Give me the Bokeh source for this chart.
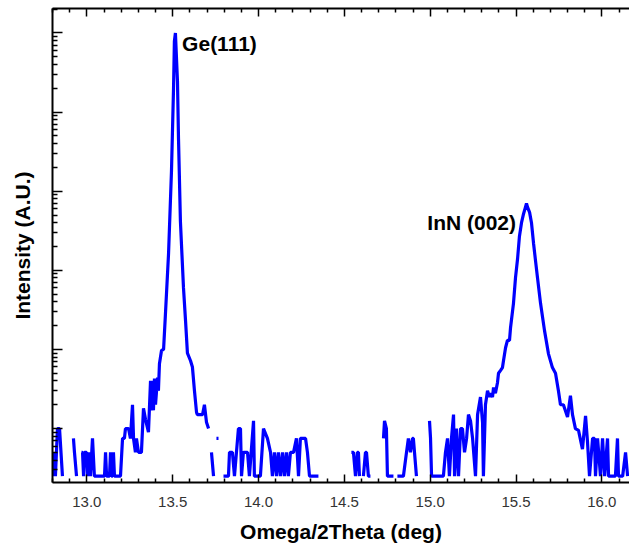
import numpy as np
from bokeh.plotting import figure
from bokeh.models import Range1d, LinearAxis, FixedTicker, PrintfTickFormatter
from bokeh.embed import file_html
from bokeh.resources import INLINE
from bokeh.core.properties import value

NAN = float("nan")

# Omega/2Theta scan (deg) and intensity (A.U.); NaN marks zero-count gaps (not drawn on log axis)
two_theta = [
    12.800, 12.806, 12.812, 12.817, 12.829, 12.841, 12.858, NAN,
    12.922, 12.928, 12.940, NAN,
    12.969, 12.975, 12.981, 12.986, 12.998, 13.004, 13.015, 13.021, 13.033, 13.044,
    13.103, 13.109, 13.115, 13.132, 13.138, 13.144, 13.150, 13.155, 13.161, 13.196,
    13.208, 13.219, 13.225, 13.243, 13.254, 13.266, 13.272, 13.283, 13.289, 13.301,
    13.318, 13.330, 13.342, 13.359, 13.371, 13.377, 13.382, 13.388, 13.394, 13.400,
    13.412, 13.417, 13.423, 13.435, 13.447, 13.458, 13.476, 13.493, 13.505, 13.510,
    13.516, 13.528, 13.534, 13.545, 13.563, 13.575, 13.586, 13.604, 13.615, 13.627,
    13.639, 13.644, 13.674, 13.685, 13.697, 13.709, NAN,
    13.726, 13.738, NAN,
    13.755, 13.767, NAN,
    13.796, 13.825, 13.831, 13.848, 13.860, 13.883, 13.895, 13.901, 13.912, 13.936,
    13.947, 13.971, 13.976, 14.011, 14.029, 14.052, 14.070, 14.081, 14.093, 14.105,
    14.116, 14.128, 14.140, 14.151, 14.163, 14.174, 14.186, 14.204, 14.221, 14.233,
    14.244, 14.274, 14.285, 14.297, 14.349, NAN,
    14.541, 14.553, 14.565, 14.576, 14.582, 14.588, NAN,
    14.611, 14.623, 14.629, 14.640, 14.652, NAN,
    14.728, 14.734, 14.745, 14.751, 14.786, NAN,
    14.809, 14.844, 14.862, 14.873, 14.885, 14.897, 14.902, 14.920, NAN,
    14.996, 15.002, 15.008, 15.077, 15.089, 15.101, 15.112, 15.124, 15.136, 15.142,
    15.153, 15.165, 15.177, 15.188, 15.200, 15.212, 15.223, 15.235, 15.247, 15.264,
    15.276, 15.293, 15.305, 15.310, 15.322, 15.334, 15.345, 15.351, 15.363, 15.369,
    15.380, 15.392, 15.398, 15.409, 15.421, 15.427, 15.439, 15.450, 15.462, 15.468,
    15.485, 15.497, 15.509, 15.520, 15.532, 15.544, 15.555, 15.561, 15.567, 15.579,
    15.590, 15.602, 15.614, 15.625, 15.643, 15.666, 15.689, 15.712, 15.730, 15.747,
    15.759, 15.776, 15.800, 15.817, 15.829, 15.846, 15.864, 15.887, 15.905, 15.916,
    15.928, 15.946, 15.957, 15.963, 15.975, 15.992, 16.004, 16.016, 16.033, 16.039,
    16.079, 16.091, 16.097, 16.121, 16.138, 16.150,
]

intensity = [
    5, 2.5, 5, 2.5, 10, 10, 2.5, NAN,
    7.5, 5, 2.5, NAN,
    5, 5, 2.5, 5, 5, 2.5, 5, 2.5, 7.5, 2.5,
    2.5, 5, 2.5, 2.5, 5, 2.5, 2.5, 5, 2.5, 2.5,
    7.5, 7.5, 10, 10, 7.5, 20, 7.5, 5, 7.5, 5,
    5, 18, 13, 9, 40, 17, 40, 17, 43, 20,
    44, 30, 66, 97, 100, 283, 1630, 17800, 200000, 790000,
    1000000, 245000, 46000, 4200, 600, 230, 90, 72, 60, 30,
    16, 15, 15, 20, 12, 10, NAN,
    5, 2.5, NAN,
    7.5, 7.5, NAN,
    2.5, 2.5, 5, 5, 2.5, 10, 10, 2.5, 5, 5,
    2.5, 12.5, 2.5, 2.5, 10, 7.5, 5, 2.5, 5, 2.5,
    5, 2.5, 5, 2.5, 5, 2.5, 5, 5, 7.5, 2.5,
    7.5, 7.5, 5, 2.5, 2.5, NAN,
    5, 5, 2.5, 5, 5, 2.5, NAN,
    2.5, 5, 5, 2.5, 2.5, NAN,
    7.5, 12.5, 10, 2.5, 2.5, NAN,
    2.5, 2.5, 5, 7.5, 5, 7.5, 7.5, 2.5, NAN,
    12.5, 7.5, 2.5, 2.5, 5, 7.5, 2.5, 7.5, 15, 2.5,
    10, 2.5, 10, 10, 5, 7.5, 15, 12.5, 7.5, 2.5,
    15, 25, 12, 2.5, 20, 30, 25, 28, 25, 33,
    28, 38, 50, 54, 59, 72, 105, 130, 130, 188,
    380, 810, 1400, 2700, 4000, 5200, 6300, 7000, 6300, 5400,
    4000, 2200, 1300, 810, 380, 173, 88, 59, 50, 30,
    20, 20, 14, 26, 15, 10, 9.5, 5.5, 14.5, 7,
    2.5, 7.5, 7.5, 2.5, 7.5, 2.5, 7.5, 2.5, 7.5, 2.5,
    2.5, 7.5, 2.5, 2.5, 5, 2.5,
]

peak_names = ["Ge(111)", "InN (002)"]
peak_label_x = [13.555, 15.500]
peak_label_y = [7.26e5, 3990]

x_major_ticks = [13.0, 13.5, 14.0, 14.5, 15.0, 15.5, 16.0]
x_minor_ticks = [12.8, 12.9, 13.1, 13.2, 13.3, 13.4, 13.6, 13.7, 13.8, 13.9, 14.1, 14.2,
                 14.3, 14.4, 14.6, 14.7, 14.8, 14.9, 15.1, 15.2, 15.3, 15.4, 15.6, 15.7,
                 15.8, 15.9, 16.1]
y_major_ticks = [1e1, 1e2, 1e3, 1e4, 1e5, 1e6]
y_minor_ticks = [m * 10.0 ** k for k in range(0, 7) for m in range(2, 10)]

FONT = "Liberation Sans"

p = figure(width=629, height=552,
           x_range=Range1d(12.8, 16.161), y_range=Range1d(2.08, 2.04e6),
           y_axis_type="log", output_backend="svg", toolbar_location=None,
           min_border_left=52, min_border_right=0, min_border_top=8, min_border_bottom=70)
p.outline_line_color = None
p.xgrid.grid_line_color = None
p.ygrid.grid_line_color = None
p.background_fill_color = "white"
p.border_fill_color = "white"

p.line(np.array(two_theta, dtype=float), np.array(intensity, dtype=float),
       line_color="#0000ff", line_width=3.2)

p.text(x=peak_label_x[:1], y=peak_label_y[:1], text=peak_names[:1],
       text_font=value(FONT), text_font_style="bold", text_font_size="21px",
       text_align="left", text_baseline="middle", text_color="black")
p.text(x=peak_label_x[1:], y=peak_label_y[1:], text=peak_names[1:],
       text_font=value(FONT), text_font_style="bold", text_font_size="21px",
       text_align="right", text_baseline="middle", text_color="black")

def style_x(ax):
    ax.ticker = FixedTicker(ticks=x_major_ticks, minor_ticks=x_minor_ticks)
    ax.major_tick_in = 8
    ax.major_tick_out = 0
    ax.minor_tick_in = 4
    ax.minor_tick_out = 0
    ax.axis_line_width = 2
    ax.major_tick_line_width = 1.5
    ax.minor_tick_line_width = 1.5
    ax.axis_line_color = "black"

xa = p.xaxis[0]
style_x(xa)
xa.formatter = PrintfTickFormatter(format="%.1f")
xa.major_label_text_font = FONT
xa.major_label_text_font_size = "15px"
xa.major_label_text_color = "#333333"
xa.major_label_standoff = 14
xa.axis_label = "Omega/2Theta (deg)"
xa.axis_label_text_font = FONT
xa.axis_label_text_font_style = "bold"
xa.axis_label_text_font_size = "21px"
xa.axis_label_text_color = "black"
xa.axis_label_standoff = 10

top = LinearAxis()
style_x(top)
top.major_label_text_font_size = "1px"
top.major_label_text_color = None
top.major_label_standoff = 0
p.add_layout(top, "above")

ya = p.yaxis[0]
ya.ticker = FixedTicker(ticks=y_major_ticks, minor_ticks=y_minor_ticks)
ya.major_tick_in = 10
ya.major_tick_out = 0
ya.minor_tick_in = 5
ya.minor_tick_out = 0
ya.axis_line_width = 2
ya.major_tick_line_width = 1.5
ya.minor_tick_line_width = 1.5
ya.major_label_text_font_size = "1px"
ya.major_label_text_color = None
ya.major_label_standoff = 0
ya.axis_label = "Intensity (A.U.)"
ya.axis_label_text_font = FONT
ya.axis_label_text_font_style = "bold"
ya.axis_label_text_font_size = "21px"
ya.axis_label_text_color = "black"
ya.axis_label_standoff = 19

open("out.html", "w").write(file_html(p, INLINE))
